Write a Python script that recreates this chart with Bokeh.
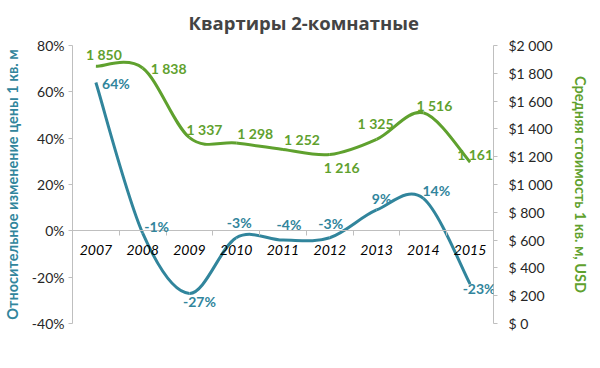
from bokeh.plotting import figure
from bokeh.models import Range1d, LinearAxis, FixedTicker, ColumnDataSource, Label
from bokeh.embed import file_html
from bokeh.resources import INLINE

# ---- data ----
years = ["2007", "2008", "2009", "2010", "2011", "2012", "2013", "2014", "2015"]
change_pct = [64, -1, -27, -3, -4, -3, 9, 14, -23]
price_usd = [1850, 1838, 1337, 1298, 1252, 1216, 1325, 1516, 1161]
pct_ticks = [-40, -20, 0, 20, 40, 60, 80]
usd_ticks = [0, 200, 400, 600, 800, 1000, 1200, 1400, 1600, 1800, 2000]

# label offsets in screen pixels (dx right, dy down)
pct_lbl_dx = [20, 14, 10, 3, 6, 1, 5, 13, 9]
pct_lbl_dy = [1, -7, 8, -15, -16, -14, -11, -8, 4]
usd_lbl_dx = [8, 26, 15, 19, 19, 12, -1, 11, 5]
usd_lbl_dy = [-12, 0, -8, -10, -10, 13, -16, -7, -8]

BLUE = "#31859c"
GREEN = "#5fa12e"
AXIS = "#bfbfbf"
FONT = "Lato"

xs = list(range(1, len(years) + 1))


def usd_fmt(v):
    if v >= 1000:
        return "$%d %03d" % (v // 1000, v % 1000)
    return "$ %d" % v


def num_fmt(v):
    if v >= 1000:
        return "%d %03d" % (v // 1000, v % 1000)
    return str(v)


def bezier_cols(x, y):
    n = len(x)
    cols = dict(x0=[], y0=[], x1=[], y1=[], cx0=[], cy0=[], cx1=[], cy1=[])
    for i in range(n - 1):
        im = max(i - 1, 0)
        ip2 = min(i + 2, n - 1)
        cols["x0"].append(x[i]); cols["y0"].append(y[i])
        cols["x1"].append(x[i + 1]); cols["y1"].append(y[i + 1])
        cols["cx0"].append(x[i] + (x[i + 1] - x[im]) / 6.0)
        cols["cy0"].append(y[i] + (y[i + 1] - y[im]) / 6.0)
        cols["cx1"].append(x[i + 1] - (x[ip2] - x[i]) / 6.0)
        cols["cy1"].append(y[i + 1] - (y[ip2] - y[i]) / 6.0)
    return cols


p = figure(frame_width=421, frame_height=278, output_backend="svg", toolbar_location=None,
           x_range=Range1d(0.5, len(years) + 0.5), y_range=Range1d(-40, 80),
           min_border_left=68, min_border_right=95, min_border_top=0, min_border_bottom=30)
p.extra_y_ranges = {"usd": Range1d(0, 2000)}
p.outline_line_color = None
p.xgrid.visible = False
p.ygrid.visible = False

p.title.text = "Квартиры  2-комнатные"
p.title.text_font = "Open Sans"
p.title.text_font_size = "18.5px"
p.title.text_font_style = "bold"
p.title.text_line_height = 0.7
p.title.align = "left"
p.title.vertical_align = "top"
p.title.offset = 116
p.title.standoff = 18

# x axis at zero
xa = p.xaxis[0]
xa.fixed_location = 0
xa.ticker = FixedTicker(ticks=xs, minor_ticks=[v + 0.5 for v in range(0, len(years) + 1)])
xa.major_label_overrides = {x: y for x, y in zip(xs, years)}
xa.major_tick_out = 0
xa.major_tick_in = 0
xa.minor_tick_out = 5
xa.minor_tick_in = 0
xa.minor_tick_line_color = AXIS
xa.axis_line_color = AXIS
xa.major_label_text_font = FONT
xa.major_label_text_font_style = "italic"
xa.major_label_text_font_size = "14px"
xa.major_label_text_color = "#000000"
xa.major_label_standoff = 9

ya = p.yaxis[0]
ya.ticker = FixedTicker(ticks=pct_ticks, minor_ticks=[])
ya.major_label_overrides = {v: "%d%%" % v for v in pct_ticks}
ya.axis_line_color = AXIS
ya.major_tick_line_color = AXIS
ya.major_tick_out = 4
ya.major_tick_in = 0
ya.major_label_text_font = FONT
ya.major_label_text_font_size = "14px"
ya.major_label_text_color = "#262626"
ya.major_label_standoff = 4
ya.axis_label = "Относительное изменение цены 1 кв. м"
ya.axis_label_text_font = FONT
ya.axis_label_text_font_size = "14.5px"
ya.axis_label_text_font_style = "bold"
ya.axis_label_text_color = BLUE
ya.axis_label_standoff = 8

ra = LinearAxis(y_range_name="usd")
ra.ticker = FixedTicker(ticks=usd_ticks, minor_ticks=[])
ra.major_label_overrides = {v: usd_fmt(v) for v in usd_ticks}
ra.axis_line_color = AXIS
ra.major_tick_line_color = AXIS
ra.major_tick_out = 4
ra.major_tick_in = 0
ra.major_label_text_font = FONT
ra.major_label_text_font_size = "14px"
ra.major_label_text_color = "#262626"
ra.major_label_standoff = 11
ra.axis_label = "Средняя стоимость 1 кв. м, USD"
ra.axis_label_text_font = FONT
ra.axis_label_text_font_size = "14.5px"
ra.axis_label_text_font_style = "bold"
ra.axis_label_text_color = GREEN
ra.axis_label_standoff = 16
p.add_layout(ra, "right")

# smoothed lines
p.bezier(source=ColumnDataSource(bezier_cols(xs, price_usd)), x0="x0", y0="y0", x1="x1", y1="y1",
         cx0="cx0", cy0="cy0", cx1="cx1", cy1="cy1", line_color=GREEN, line_width=3,
         y_range_name="usd")
p.bezier(source=ColumnDataSource(bezier_cols(xs, change_pct)), x0="x0", y0="y0", x1="x1", y1="y1",
         cx0="cx0", cy0="cy0", cx1="cx1", cy1="cy1", line_color=BLUE, line_width=3)

# data labels
for x, v, dx, dy in zip(xs, price_usd, usd_lbl_dx, usd_lbl_dy):
    p.add_layout(Label(x=x, y=v, text=num_fmt(v), x_offset=dx, y_offset=-dy,
                       y_range_name="usd", text_font=FONT, text_font_size="14px",
                       text_font_style="bold", text_color=GREEN, text_align="center",
                       text_baseline="middle"))
for x, v, dx, dy in zip(xs, change_pct, pct_lbl_dx, pct_lbl_dy):
    p.add_layout(Label(x=x, y=v, text="%d%%" % v, x_offset=dx, y_offset=-dy,
                       text_font=FONT, text_font_size="14px",
                       text_font_style="bold", text_color=BLUE, text_align="center",
                       text_baseline="middle"))

open("out.html", "w").write(file_html(p, INLINE))
